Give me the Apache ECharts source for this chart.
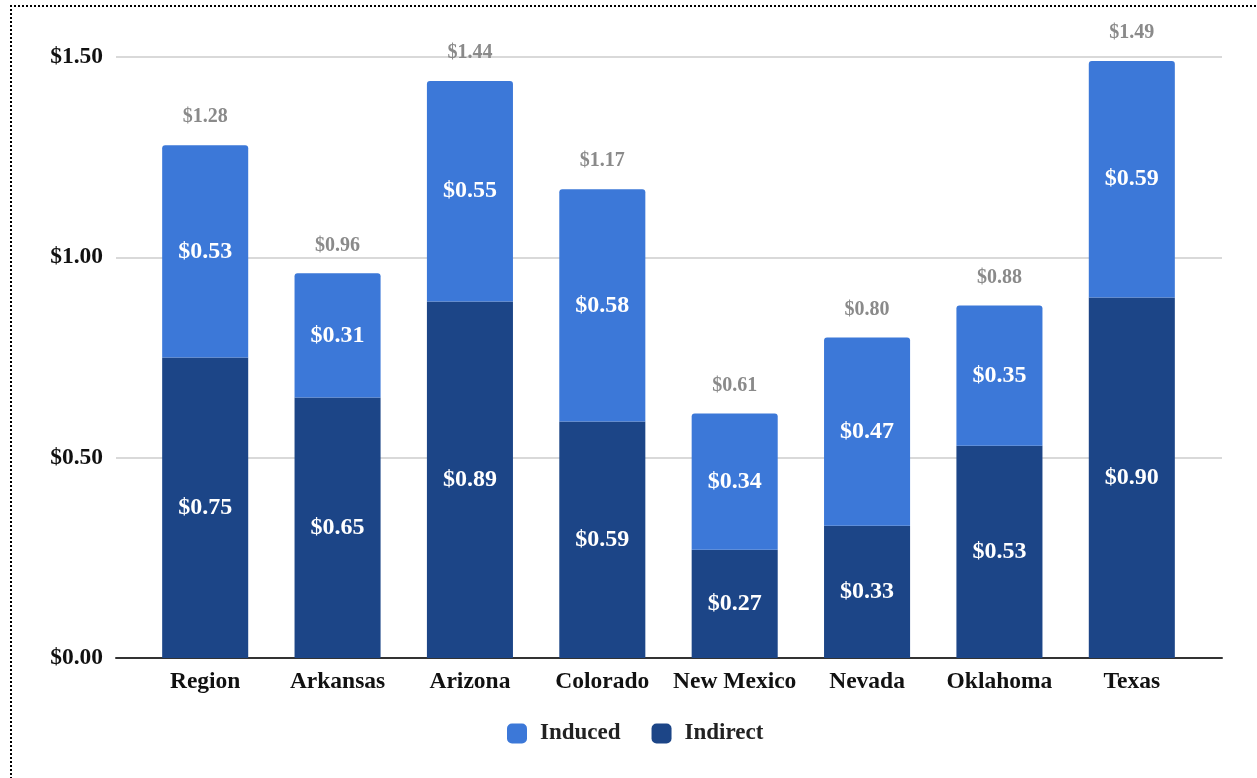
<!DOCTYPE html>
<html>
<head>
<meta charset="utf-8">
<script src="https://cdn.jsdelivr.net/npm/echarts@6/dist/echarts.min.js"></script>
<style>
  html, body { margin: 0; padding: 0; background: #fff; }
  #container { position: absolute; left: 0; top: 0; width: 1257px; height: 778px; }
  #frame { position: absolute; left: 10px; top: 5px; width: 1300px; height: 800px;
           border-left: 2px dotted #000; border-top: 2px dotted #000; pointer-events: none; }
</style>
</head>
<body>
<div id="container"></div>
<div id="frame"></div>
<script>
var categories = ['Region', 'Arkansas', 'Arizona', 'Colorado', 'New Mexico', 'Nevada', 'Oklahoma', 'Texas'];
var indirect = [0.75, 0.65, 0.89, 0.59, 0.27, 0.33, 0.53, 0.90];
var induced = [0.53, 0.31, 0.55, 0.58, 0.34, 0.47, 0.35, 0.59];
var totals = [1.28, 0.96, 1.44, 1.17, 0.61, 0.80, 0.88, 1.49];
var yTicks = [0, 0.5, 1.0, 1.5];

function grafico(){
    var dom = document.getElementById('container');
    var myChart = echarts.init(dom);
    var font = '"Liberation Serif", "Times New Roman", serif';
    var money = function (v) { return '$' + Number(v).toFixed(2); };
    var yMin = yTicks[0], yMax = yTicks[yTicks.length - 1];
    var option = {
        animation: false,
        textStyle: { fontFamily: font },
        // grid 0: gridlines + y labels, grid 1: bars (narrower, like the original)
        grid: [
            { left: 116, right: 35, top: 57, bottom: 120 },
            { left: 139, right: 59, top: 57, bottom: 120 }
        ],
        legend: {
            data: ['Induced', 'Indirect'],
            bottom: 33,
            left: 507,
            padding: 0,
            itemWidth: 20,
            itemHeight: 20,
            itemGap: 31,
            icon: 'roundRect',
            textStyle: { fontFamily: font, fontWeight: 'bold', fontSize: 23, color: '#222',
                         padding: [0, 0, 0, 8] }
        },
        xAxis: [{
            gridIndex: 0,
            type: 'value',
            min: 0,
            max: 1,
            axisLabel: { show: false },
            axisTick: { show: false },
            splitLine: { show: false },
            axisLine: { show: true, onZero: false, lineStyle: { color: '#333', width: 2 } }
        }, {
            gridIndex: 1,
            type: 'category',
            data: categories,
            axisTick: { show: false },
            axisLine: { show: false },
            axisLabel: { interval: 0, fontFamily: font, fontWeight: 'bold', fontSize: 23.5, color: '#111', margin: 12 }
        }],
        yAxis: [{
            gridIndex: 0,
            type: 'value',
            min: yMin,
            max: yMax,
            interval: 0.5,
            axisLine: { show: false },
            axisTick: { show: false },
            splitLine: { lineStyle: { color: '#cccccc', width: 1.5 } },
            axisLabel: { fontFamily: font, fontWeight: 'bold', fontSize: 23.5, color: '#111', margin: 13,
                         formatter: money }
        }, {
            gridIndex: 1,
            type: 'value',
            min: yMin,
            max: yMax,
            interval: 0.5,
            show: false,
            splitLine: { show: false }
        }],
        series: [{
            name: 'Indirect',
            type: 'bar',
            xAxisIndex: 1,
            yAxisIndex: 1,
            stack: 'total',
            barWidth: '65%',
            data: indirect,
            itemStyle: { color: '#1c4587' },
            label: { show: true, position: 'inside', color: '#fff', fontFamily: font,
                     fontWeight: 'bold', fontSize: 24, formatter: function (p) { return money(p.value); } }
        }, {
            name: 'Induced',
            type: 'bar',
            xAxisIndex: 1,
            yAxisIndex: 1,
            stack: 'total',
            data: induced,
            itemStyle: { color: '#3c78d8', borderRadius: [3, 3, 0, 0] },
            label: { show: true, position: 'inside', color: '#fff', fontFamily: font,
                     fontWeight: 'bold', fontSize: 24, formatter: function (p) { return money(p.value); } }
        }, {
            name: 'Total',
            type: 'bar',
            xAxisIndex: 1,
            yAxisIndex: 1,
            stack: 'total',
            data: totals.map(function () { return 0; }),
            itemStyle: { color: 'transparent' },
            label: { show: true, position: 'top', distance: 18, color: '#8a8a8a', fontFamily: font,
                     fontWeight: 'bold', fontSize: 20,
                     formatter: function (p) { return money(totals[p.dataIndex]); } }
        }]
    };
    if (option && typeof option === 'object') {
        myChart.setOption(option);
    }
}
grafico();
</script>
</body>
</html>
